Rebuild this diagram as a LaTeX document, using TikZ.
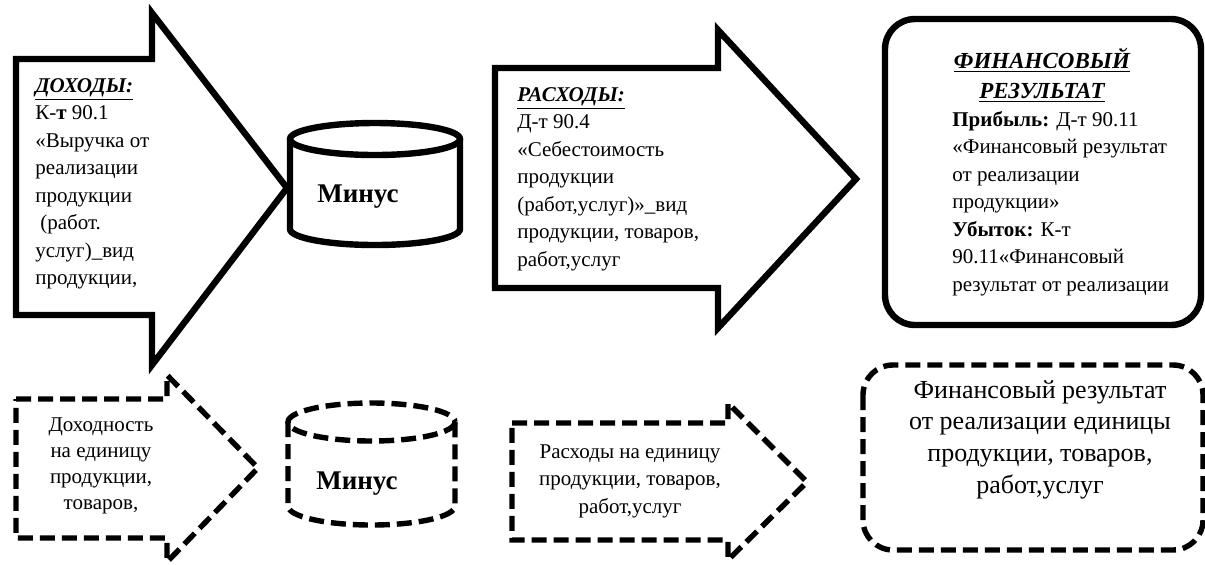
\documentclass[tikz,border=0pt]{standalone}
\usepackage{fontspec}
\setmainfont{Liberation Serif}

\begin{document}
\begin{tikzpicture}[x=0.5pt,y=-0.5pt,
  solidln/.style={line width=3.2pt,line join=miter},
  dashln/.style={line width=2.7pt,dash pattern=on 7.5pt off 3.5pt},
  txt/.style={inner sep=0pt,font=\fontsize{10.5}{13.75}\selectfont},
  hdr/.style={inner sep=0pt,font=\fontsize{11.5}{15}\selectfont\bfseries\itshape},
  minus/.style={inner sep=0pt,font=\fontsize{13.5}{16}\selectfont\bfseries}]
\useasboundingbox (0,0) rectangle (1205,564);
% upper row
\draw[solidln] (16,59) -- (152,59) -- (152,13) -- (287,188) -- (152,365)
   -- (152,315) -- (16,315) -- cycle;
\node[txt,align=left,anchor=north west] (dohody) at (35,78)
   {\underline{\textbf{\textit{ДОХОДЫ:}}}\\К-\textbf{т} 90.1\\«Выручка от\\реализации\\продукции\\
    \hspace*{2.5pt}(работ.\\услуг)\_вид\\продукции,};
\draw[solidln] (375,139) ellipse[x radius=85,y radius=16];
\draw[solidln] (290,139) -- (290,229) arc[start angle=180,end angle=0,x radius=85,y radius=16]
   -- (460,139);
\node[minus,anchor=base] (minus1) at (358,202) {Минус};
\draw[solidln] (495,68) -- (718,68) -- (718,30) -- (856,179) -- (718,328)
   -- (718,288) -- (495,288) -- cycle;
\node[txt,align=left,anchor=north west] (rashody) at (517,87)
   {\underline{\textbf{\textit{РАСХОДЫ:}}}\\Д-т 90.4\\«Себестоимость\\продукции\\(работ,услуг)»\_вид\\
    продукции, товаров,\\работ,услуг};
\draw[solidln,rounded corners=15pt] (885,19) rectangle (1201,325);
\node[hdr,align=center,anchor=north] (fintitle) at (1042,48)
   {\underline{ФИНАНСОВЫЙ}\\\underline{РЕЗУЛЬТАТ}};
\node[txt,align=left,anchor=north west] (finbody) at (952,111)
   {\textbf{Прибыль:} Д-т 90.11\\«Финансовый результат\\от реализации\\продукции»\\
    \textbf{Убыток:} К-т\\90.11«Финансовый\\результат от реализации};
% lower row
\draw[dashln] (16,399) -- (167,399) -- (167,375) -- (258,468) -- (167,562)
   -- (167,538) -- (16,538) -- cycle;
\node[txt,align=center,anchor=north,font=\fontsize{10.5}{13}\selectfont] (dohodnost) at (101,417)
   {Доходность\\на единицу\\продукции,\\товаров,};
\draw[dashln] (371.5,422) ellipse[x radius=83.5,y radius=19];
\draw[dashln] (288,422) -- (288,506) arc[start angle=180,end angle=0,x radius=83.5,y radius=19]
   -- (455,422);
\node[minus,anchor=base] (minus2) at (357,489) {Минус};
\draw[dashln] (512,423) -- (728,423) -- (728,403) -- (807,482) -- (728,560)
   -- (728,540) -- (512,540) -- cycle;
\node[txt,align=center,anchor=north] (ednrash) at (630,444)
   {Расходы на единицу\\продукции, товаров,\\работ,услуг};
\draw[dashln,rounded corners=15pt] (863,365) rectangle (1203,550);
\node[txt,align=center,anchor=north,font=\fontsize{13}{15.8}\selectfont] (ednfin) at (1040,380)
   {Финансовый результат\\от реализации единицы\\продукции, товаров,\\работ,услуг};
\end{tikzpicture}
\end{document}
